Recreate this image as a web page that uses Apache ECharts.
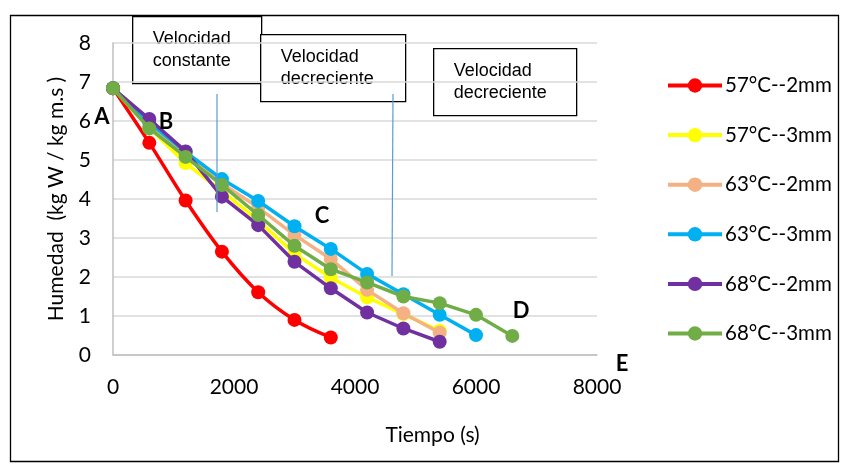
<!DOCTYPE html>
<html>
<head>
<meta charset="utf-8">
<script src="https://cdn.jsdelivr.net/npm/echarts@6/dist/echarts.min.js"></script>
<style>
  html, body { margin: 0; padding: 0; background: #fff; }
  #chart { width: 843px; height: 465px; }
</style>
</head>
<body>
<div id="chart"></div>
<script>
// Drying time (s) sampled every 600 s
const tiempo = [0, 600, 1200, 1800, 2400, 3000, 3600, 4200, 4800, 5400, 6000, 6600];

// Moisture content (kg W / kg m.s) per drying condition
const h57_2 = [6.84, 5.44, 3.96, 2.65, 1.61, 0.90, 0.45];
const h57_3 = [6.84, 5.82, 4.92, 4.20, 3.45, 2.60, 1.98, 1.48, 1.05, 0.62];
const h63_2 = [6.84, 5.85, 5.15, 4.40, 3.78, 3.08, 2.46, 1.67, 1.07, 0.57];
const h63_3 = [6.84, 5.95, 5.21, 4.51, 3.95, 3.30, 2.72, 2.08, 1.56, 1.03, 0.51];
const h68_2 = [6.84, 6.05, 5.22, 4.06, 3.33, 2.39, 1.71, 1.09, 0.68, 0.34];
const h68_3 = [6.84, 5.81, 5.08, 4.36, 3.59, 2.80, 2.20, 1.86, 1.50, 1.33, 1.03, 0.49];

const seriesNames = ['57°C--2mm', '57°C--3mm', '63°C--2mm', '63°C--3mm', '68°C--2mm', '68°C--3mm'];
const seriesData = [h57_2, h57_3, h63_2, h63_3, h68_2, h68_3];
const seriesColors = ['#FF0000', '#FFFF00', '#F4B183', '#00B0F0', '#7030A0', '#70AD47'];

const xTicks = [0, 2000, 4000, 6000, 8000];
const yTicks = [0, 1, 2, 3, 4, 5, 6, 7, 8];

const FONT = 'Lato, "Open Sans", sans-serif';
const BOX_FONT = '"Liberation Sans", Arial, sans-serif';

function pairs(vals) {
  return vals.map((v, i) => [tiempo[i], v]);
}

const series = seriesData.map((vals, i) => ({
  name: seriesNames[i],
  type: 'line',
  data: pairs(vals),
  smooth: i === 0 ? 0.35 : false,
  symbol: 'circle',
  symbolSize: 14,
  showAllSymbol: true,
  lineStyle: { color: seriesColors[i], width: 3.5 },
  itemStyle: { color: seriesColors[i] },
  emphasis: { disabled: true },
  z: 2 + i
}));

// Text boxes describing the drying periods
function textBox(x, y, w, h, lines) {
  return {
    type: 'group',
    left: x, top: y,
    children: [
      { type: 'rect', shape: { x: 0, y: 0, width: w, height: h },
        style: { fill: '#fff', stroke: '#000', lineWidth: 1.3 } },
      { type: 'text', x: 20, y: 11,
        style: { text: lines.join('\n'), font: '18px ' + BOX_FONT, fill: '#000', lineHeight: 22 } }
    ],
    z: 10
  };
}

function letter(txt, cx, cy) {
  return {
    type: 'text', x: cx, y: cy, z: 12,
    style: { text: txt, font: 'bold 22px ' + FONT, fill: '#000', align: 'center', verticalAlign: 'middle' }
  };
}

const chart = echarts.init(document.getElementById('chart'), null, { renderer: 'canvas' });
chart.setOption({
  animation: false,
  backgroundColor: '#fff',
  grid: { left: 113, right: 246, top: 43, bottom: 110 },
  xAxis: {
    type: 'value',
    min: xTicks[0], max: xTicks[xTicks.length - 1], interval: 2000,
    name: 'Tiempo (s)',
    nameLocation: 'middle',
    nameGap: 70,
    nameTextStyle: { fontFamily: FONT, fontSize: 21, color: '#000', padding: [0, 0, 0, 155] },
    axisLine: { show: true, lineStyle: { color: '#BFBFBF', width: 1.5 } },
    axisTick: { show: false },
    axisLabel: { fontFamily: FONT, fontSize: 21, color: '#000', margin: 22,
      formatter: v => String(v) },
    splitLine: { show: false }
  },
  yAxis: {
    type: 'value',
    min: yTicks[0], max: yTicks[yTicks.length - 1], interval: 1,
    name: 'Humedad  (kg W / kg m.s )',
    nameLocation: 'middle',
    nameGap: 46,
    nameTextStyle: { fontFamily: FONT, fontSize: 21, color: '#000' },
    axisLine: { show: true, lineStyle: { color: '#BFBFBF', width: 1.5 } },
    axisTick: { show: false },
    axisLabel: { fontFamily: FONT, fontSize: 21, color: '#000', margin: 22 },
    splitLine: { show: true, lineStyle: { color: '#D9D9D9', width: 1.5 } }
  },
  legend: {
    orient: 'vertical',
    left: 666, top: 75,
    padding: 0,
    itemWidth: 54, itemHeight: 18, itemGap: 28.6,
    lineStyle: { width: 4 },
    textStyle: { fontFamily: FONT, fontSize: 20.5, color: '#000', lineHeight: 20, padding: [0, 0, 0, -2] },
    data: seriesNames
  },
  series: series,
  graphic: [
    { type: 'rect', left: 8, top: 13, z: 0,
      shape: { x: 0, y: 0, width: 828, height: 446 },
      style: { fill: 'none', stroke: '#000', lineWidth: 1.3 } },
    { type: 'line', z: 9, shape: { x1: 217, y1: 94, x2: 217, y2: 212 },
      style: { stroke: '#5B9BD5', lineWidth: 1.2 } },
    { type: 'line', z: 9, shape: { x1: 393, y1: 94, x2: 392, y2: 276 },
      style: { stroke: '#5B9BD5', lineWidth: 1.2 } },
    textBox(132, 16, 129, 67, ['Velocidad', 'constante']),
    textBox(260, 34, 145, 67, ['Velocidad', 'decreciente']),
    textBox(433, 48, 143, 67, ['Velocidad', 'decreciente']),
    letter('A', 102, 117),
    letter('B', 166, 122),
    letter('C', 322, 216),
    letter('D', 521, 311),
    letter('E', 622, 364)
  ]
});
</script>
</body>
</html>
